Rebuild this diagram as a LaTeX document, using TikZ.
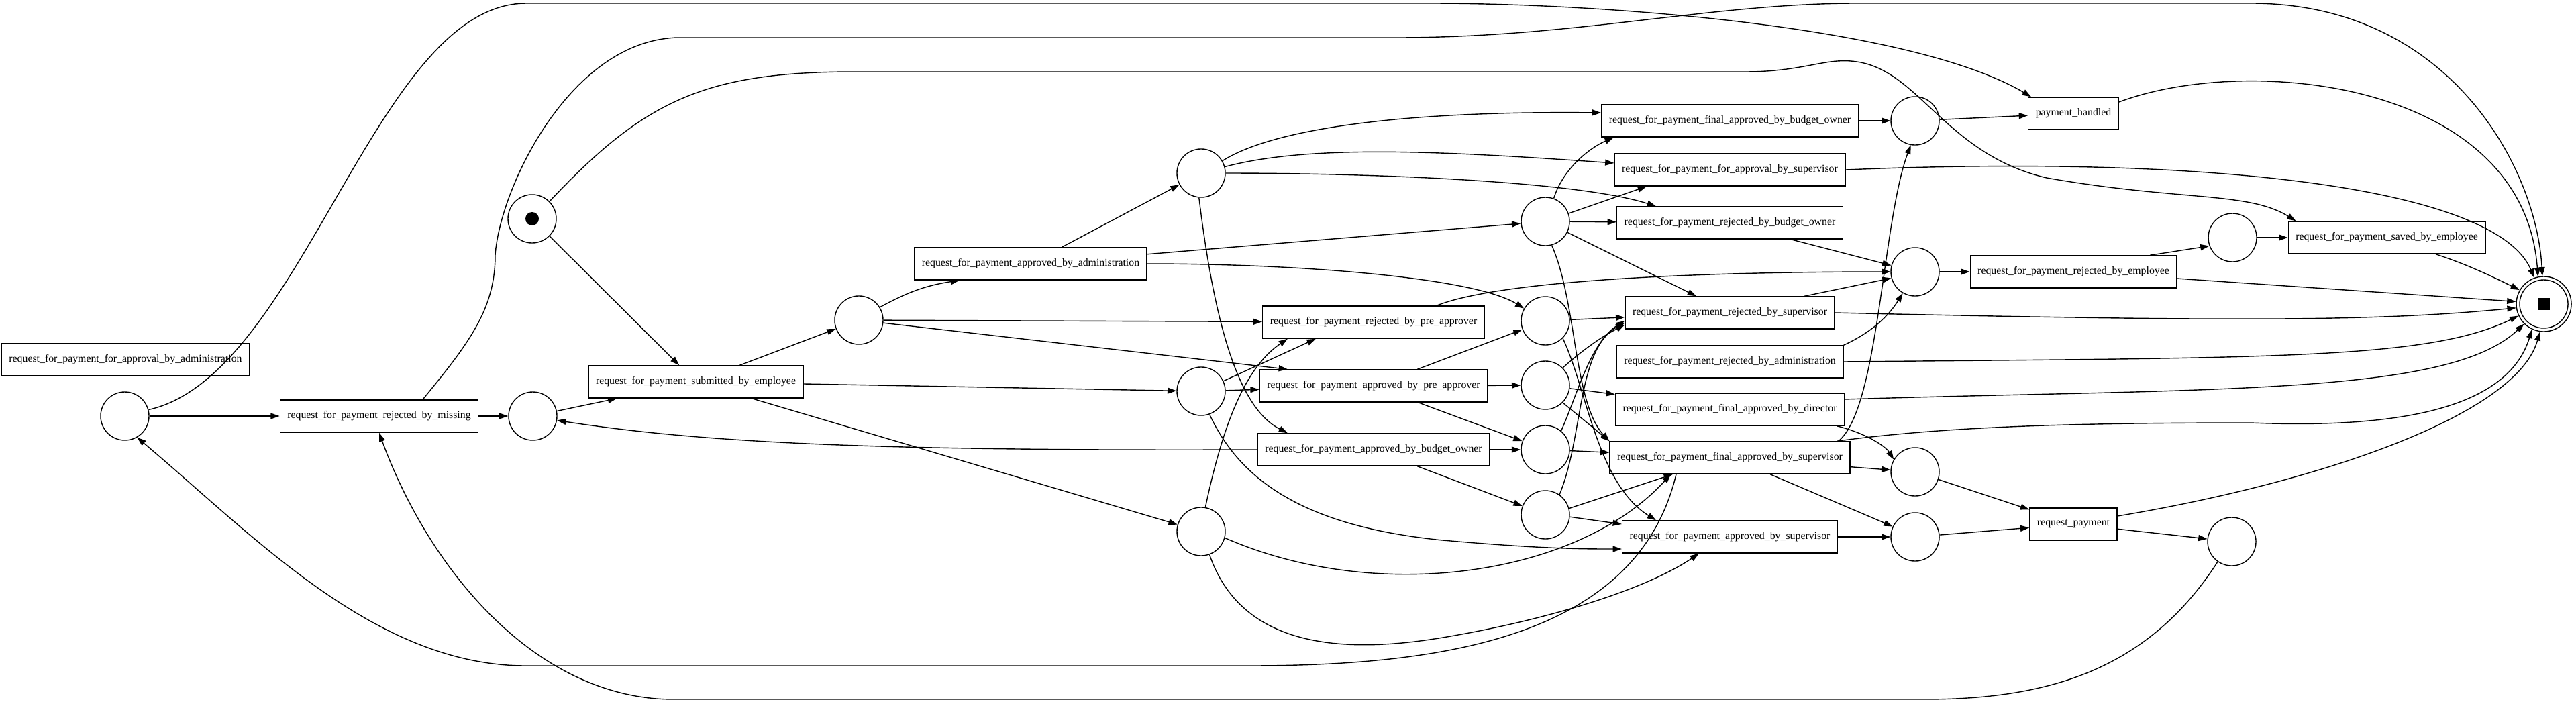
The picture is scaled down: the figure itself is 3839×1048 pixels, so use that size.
\documentclass[tikz,border=0pt]{standalone}
\usepackage{fontspec}
\setmainfont{Liberation Serif}
\usepackage{tikz}
\usetikzlibrary{arrows.meta}

\begin{document}
\begin{tikzpicture}[x=0.01cm, y=0.01cm, >={Triangle[length=1.33mm, width=0.9mm]},
  font=\fontsize{4.5}{5.4}\selectfont,
  placenode/.style={circle, draw, minimum size=0.72cm, inner sep=0pt},
  tokennode/.style={placenode, path picture={\fill (path picture bounding box.center) circle[radius=0.1cm];}},
  sinknode/.style={circle, draw, minimum size=0.82cm, inner sep=0pt,
    path picture={\draw (path picture bounding box.center) circle[radius=0.36cm];
      \fill ([shift={(-0.09cm,-0.09cm)}]path picture bounding box.center) rectangle ++(0.18cm,0.18cm);}},
  transnode/.style={rectangle, draw, minimum height=0.48cm, inner xsep=0.11cm, inner ysep=0pt}]
  \useasboundingbox (0,0) rectangle (3839,-1048);

  % Places
  \node[tokennode] (start) at (793,-326) {};
  \node[placenode] (p1) at (186,-620) {};
  \node[placenode] (p2) at (794,-620) {};
  \node[placenode] (p3) at (1280,-477) {};
  \node[placenode] (p4) at (1790,-258) {};
  \node[placenode] (p7) at (1790,-583) {};
  \node[placenode] (p11) at (1790,-792) {};
  \node[placenode] (p5) at (2303,-330) {};
  \node[placenode] (p6) at (2303,-478) {};
  \node[placenode] (p8) at (2303,-574) {};
  \node[placenode] (p9) at (2303,-670) {};
  \node[placenode] (p10) at (2303,-767) {};
  \node[placenode] (p12) at (2854,-180) {};
  \node[placenode] (p13) at (2854,-405) {};
  \node[placenode] (p14) at (2854,-703) {};
  \node[placenode] (p15) at (2854,-800) {};
  \node[placenode] (p16) at (3327,-354) {};
  \node[placenode] (p17) at (3326,-807) {};
  \node[sinknode] (sink) at (3791,-453) {};

  % Transitions
  \node[transnode] (forAdmin) at (187,-536) {request\_for\_payment\_for\_approval\_by\_administration};
  \node[transnode] (rejMissing) at (565,-620) {request\_for\_payment\_rejected\_by\_missing};
  \node[transnode] (submitted) at (1037,-569) {request\_for\_payment\_submitted\_by\_employee};
  \node[transnode] (apprAdmin) at (1536,-393) {request\_for\_payment\_approved\_by\_administration};
  \node[transnode] (rejPre) at (2047,-480) {request\_for\_payment\_rejected\_by\_pre\_approver};
  \node[transnode] (apprPre) at (2047,-575) {request\_for\_payment\_approved\_by\_pre\_approver};
  \node[transnode] (apprBudget) at (2047,-670) {request\_for\_payment\_approved\_by\_budget\_owner};
  \node[transnode] (finBudget) at (2578,-180) {request\_for\_payment\_final\_approved\_by\_budget\_owner};
  \node[transnode] (forSup) at (2578,-253) {request\_for\_payment\_for\_approval\_by\_supervisor};
  \node[transnode] (rejBudget) at (2578,-332) {request\_for\_payment\_rejected\_by\_budget\_owner};
  \node[transnode] (rejSup) at (2578,-466) {request\_for\_payment\_rejected\_by\_supervisor};
  \node[transnode] (rejAdmin) at (2578,-539) {request\_for\_payment\_rejected\_by\_administration};
  \node[transnode] (finDirector) at (2578,-610) {request\_for\_payment\_final\_approved\_by\_director};
  \node[transnode] (finSup) at (2578,-682) {request\_for\_payment\_final\_approved\_by\_supervisor};
  \node[transnode] (apprSup) at (2578,-800) {request\_for\_payment\_approved\_by\_supervisor};
  \node[transnode] (handled) at (3090,-169) {payment\_handled};
  \node[transnode] (rejEmp) at (3090,-405) {request\_for\_payment\_rejected\_by\_employee};
  \node[transnode] (reqPay) at (3090,-781) {request\_payment};
  \node[transnode] (savedEmp) at (3557,-354) {request\_for\_payment\_saved\_by\_employee};

  % Left part
  \draw[->] (p1) -- (rejMissing);
  \draw[->] (rejMissing) -- (p2);
  \draw[->] (p2) -- (submitted);
  \draw[->] (start) -- (submitted);
  \draw[->] (submitted) -- (p3);
  \draw[->] (submitted) -- (p7);
  \draw[->] (submitted) -- (p11);
  \draw[->] (p3) to[bend left=10] ([xshift=-1.06cm]apprAdmin.south);
  \draw[->] (p3) -- (rejPre);
  \draw[->] (p3) -- ([xshift=-1.28cm]apprPre.north);
  \draw[->] (apprAdmin) -- (p4);
  \draw[->] (apprAdmin) -- (p5);
  \draw[->] (apprAdmin.east) .. controls (1950,-393) and (2200,-415) .. (p6.150);

  % Middle part
  \draw[->] (p4.30) .. controls (1900,-190) and (2100,-165) .. ([yshift=0.12cm]finBudget.west);
  \draw[->] (p4.15) .. controls (1950,-215) and (2150,-225) .. ([yshift=0.1cm]forSup.west);
  \draw[->] (p4.east) .. controls (2050,-258) and (2350,-270) .. ([xshift=-1.1cm]rejBudget.north);
  \draw[->] (p4.-95) .. controls (1812,-500) and (1850,-610) .. ([xshift=-1.28cm]apprBudget.north);
  \draw[->] (p7) -- ([xshift=-0.86cm]rejPre.south);
  \draw[->] (p7) -- (apprPre);
  \draw[->] (p7.-70) .. controls (1850,-720) and (1950,-785) .. (2150,-805)
    .. controls (2300,-818) and (2360,-818) .. ([yshift=-0.18cm]apprSup.west);
  \draw[->] (p11.80) .. controls (1825,-620) and (1860,-545) .. ([xshift=-1.28cm]rejPre.south);
  \draw[->] (p11.-15) .. controls (2050,-900) and (2350,-860) .. ([xshift=-0.88cm]finSup.south);
  \draw[->] (p11.-70) .. controls (1850,-965) and (2000,-975) .. (2150,-950)
    .. controls (2300,-925) and (2450,-880) .. ([xshift=-0.46cm]apprSup.south);
  \draw[->] (apprPre) -- (p6);
  \draw[->] (apprPre) -- (p8);
  \draw[->] (apprPre) -- (p9);
  \draw[->] (apprBudget) -- (p9);
  \draw[->] (apprBudget) -- (p10);
  \draw[->] (apprBudget.west) .. controls (1300,-672) and (1050,-660) .. (p2.-10);
  \draw[->] ([xshift=0.94cm]rejPre.north) .. controls (2230,-420) and (2500,-405) .. (p13.west);

  % Places into the supervisor column
  \draw[->] (p5.70) .. controls (2330,-250) and (2370,-220) .. ([xshift=-1.73cm]finBudget.south);
  \draw[->] (p5) -- ([xshift=-1.24cm]forSup.south);
  \draw[->] (p5) -- (rejBudget);
  \draw[->] (p5) -- ([xshift=-0.5cm]rejSup.north);
  \draw[->] (p5.-75) .. controls (2350,-450) and (2345,-600) .. (finSup.north west);
  \draw[->] (p6) -- (rejSup);
  \draw[->] (p6.-45) .. controls (2365,-580) and (2380,-720) .. ([xshift=-1.1cm]apprSup.north);
  \draw[->] (p8.45) .. controls (2360,-520) and (2390,-500) .. ([yshift=-0.18cm]rejSup.west);
  \draw[->] (p8) -- (finDirector);
  \draw[->] (p8.-45) -- (finSup.north west);
  \draw[->] (p9.50) .. controls (2350,-590) and (2370,-510) .. ([yshift=-0.12cm]rejSup.west);
  \draw[->] (p9) -- (finSup);
  \draw[->] (p10.55) .. controls (2360,-650) and (2350,-520) .. ([yshift=-0.15cm]rejSup.west);
  \draw[->] (p10.15) -- ([xshift=-0.85cm]finSup.south);
  \draw[->] (p10.-5) -- ([yshift=0.19cm]apprSup.west);

  % Right part
  \draw[->] (finBudget) -- (p12);
  \draw[->] ([xshift=0.91cm]rejBudget.south) -- (p13.165);
  \draw[->] ([xshift=1.11cm]rejSup.north) -- (p13.195);
  \draw[->] (rejAdmin.north east) .. controls (2790,-495) and (2815,-470) .. (p13.240);
  \draw[->] ([xshift=-0.12cm]finDirector.south east) .. controls (2780,-645) and (2810,-665) .. (p14.150);
  \draw[->] ([xshift=-0.18cm]finSup.north east) .. controls (2800,-610) and (2805,-330) .. (p12.260);
  \draw[->] (finSup) -- (p14);
  \draw[->] ([xshift=0.6cm]finSup.south) -- (p15.155);
  \draw[->] (apprSup) -- (p15);
  \draw[->] (p12) -- (handled);
  \draw[->] (p13) -- (rejEmp);
  \draw[->] ([xshift=1.14cm]rejEmp.north) -- (p16.200);
  \draw[->] (p16) -- (savedEmp);
  \draw[->] (p14) -- (reqPay);
  \draw[->] (p15) -- (reqPay);
  \draw[->] (reqPay) -- (p17);

  % Into the final place
  \draw[->] ([yshift=0.17cm]handled.east) .. controls (3350,-80) and (3760,-120) .. (sink.102);
  \draw[->] (forSup.east) .. controls (3300,-230) and (3720,-280) .. (sink.110);
  \draw[->] ([xshift=0.73cm]savedEmp.south) .. controls (3680,-395) and (3720,-415) .. (sink.150);
  \draw[->] ([yshift=-0.1cm]rejEmp.east) -- (sink.175);
  \draw[->] (rejSup.east) .. controls (3350,-480) and (3550,-478) .. (sink.188);
  \draw[->] (rejAdmin.east) .. controls (3400,-533) and (3620,-535) .. (sink.205);
  \draw[->] ([yshift=0.15cm]finDirector.east) .. controls (3300,-578) and (3650,-590) .. (sink.225);
  \draw[->] ([xshift=-0.2cm]finSup.north east) .. controls (2900,-635) and (3100,-630) .. (3354,-630)
    .. controls (3600,-640) and (3740,-600) .. (sink.245);
  \draw[->] ([yshift=0.12cm]reqPay.east) .. controls (3450,-720) and (3750,-620) .. (sink.262);

  % Long loops round the picture
  \draw[->] ([xshift=-0.8cm]finSup.south) .. controls (2440,-950) and (2150,-992) .. (1861,-992)
    -- (784,-992) .. controls (560,-992) and (380,-800) .. (p1.-60);
  \draw[->] (p17.235) .. controls (3200,-1000) and (3050,-1042) .. (2867,-1042)
    -- (1004,-1042) .. controls (800,-1042) and (640,-850) .. (rejMissing.south);
  \draw[->] (p1.15) .. controls (450,-560) and (560,-5) .. (784,-5)
    -- (2130,-5) .. controls (2400,-5) and (2850,-40) .. ([xshift=0.05cm]handled.north west);
  \draw[->] ([xshift=0.65cm]rejMissing.north) .. controls (700,-510) and (738,-460) .. (738,-380)
    .. controls (745,-280) and (850,-60) .. (1010,-56)
    -- (2081,-56) .. controls (2350,-56) and (2550,-5) .. (2767,-5)
    -- (3355,-5) .. controls (3650,-5) and (3780,-250) .. (sink.93);
  \draw[->] (start.45) .. controls (960,-150) and (1050,-107) .. (1273,-107)
    -- (2600,-107) .. controls (2690,-107) and (2720,-85) .. (2767,-92)
    .. controls (2860,-105) and (2900,-230) .. (3050,-265)
    .. controls (3250,-300) and (3350,-285) .. ([xshift=0.12cm]savedEmp.north west);
\end{tikzpicture}
\end{document}
